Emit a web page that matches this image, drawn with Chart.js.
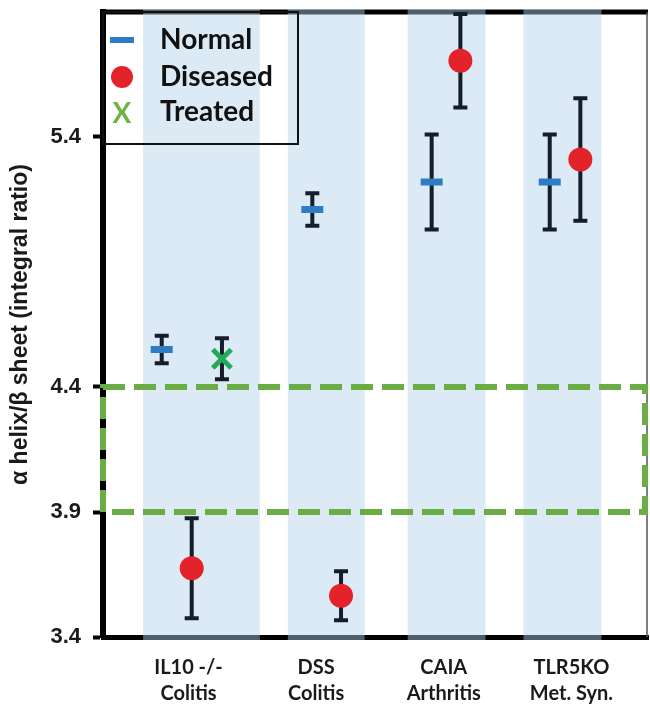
<!DOCTYPE html>
<html>
<head>
<meta charset="utf-8">
<script src="https://cdn.jsdelivr.net/npm/chart.js@4"></script>
<style>
  html, body { margin: 0; padding: 0; background: #fff; }
  #wrap { width: 650px; height: 708px; }
</style>
</head>
<body>
<div id="wrap"><canvas id="chrt" width="650" height="708"></canvas></div>
<script>
// data
const groups = [["IL10 -/-", "Colitis"], ["DSS", "Colitis"], ["CAIA", "Arthritis"], ["TLR5KO", "Met. Syn."]];
const normalMean = [4.55, 5.11, 5.22, 5.22];
const normalErr = [0.055, 0.065, 0.19, 0.19];
const diseasedMean = [3.675, 3.565, 5.705, 5.31];
const diseasedErr = [0.2, 0.098, 0.187, 0.245];
const treatedMean = [4.513, null, null, null];
const treatedErr = [0.082, null, null, null];
const yTicks = [3.4, 3.9, 4.4, 5.4];
const normalRange = [3.9, 4.4];

// where each marker sits inside its group (x axis units, group n at n)
const SLOT = {
  normal: [0.79, 1.97, 2.905, 3.83],
  diseased: [1.025, 2.195, 3.13, 4.07],
  treated: [1.262, null, null, null],
};
const BANDS = [[0.644, 1.559], [1.778, 2.38], [2.717, 3.327], [3.624, 4.235]];

const CLR = {
  normal: "#2e7cc4",
  diseased: "#e4222a",
  treated: "#24a85a",
  bar: "#141d29",
  band: "rgba(178, 208, 235, 0.45)",
  box: "#6aad45",
};

function pts(xs, ys) {
  return ys.map((y, i) => (y == null ? null : { x: xs[i], y: y })).filter((p) => p != null);
}

function errs(xs, ys, es) {
  return ys.map((y, i) => (y == null ? null : { x: xs[i], lo: y - es[i], hi: y + es[i] })).filter((p) => p != null);
}

const errData = [
  errs(SLOT.normal, normalMean, normalErr),
  errs(SLOT.diseased, diseasedMean, diseasedErr),
  errs(SLOT.treated, treatedMean, treatedErr),
];

const backdrop = {
  id: "backdrop",
  beforeDatasetsDraw(chart) {
    const { ctx, chartArea: a, scales } = chart;
    const x = scales.x, y = scales.y;
    ctx.save();
    // top frame + thin right frame
    ctx.strokeStyle = "#000";
    ctx.lineWidth = 5;
    ctx.beginPath();
    ctx.moveTo(a.left - 3, a.top);
    ctx.lineTo(a.right, a.top);
    ctx.stroke();
    ctx.strokeStyle = "#555";
    ctx.lineWidth = 1.5;
    ctx.beginPath();
    ctx.moveTo(a.right - 1, a.top);
    ctx.lineTo(a.right - 1, a.bottom);
    ctx.stroke();
    // shaded group bands
    ctx.fillStyle = CLR.band;
    BANDS.forEach((b) => {
      const x0 = x.getPixelForValue(b[0]);
      const x1 = x.getPixelForValue(b[1]);
      ctx.fillRect(x0, a.top - 3, x1 - x0, a.bottom - a.top + 6);
    });
    // error bars
    ctx.strokeStyle = CLR.bar;
    ctx.lineWidth = 4;
    errData.forEach((set) => {
      set.forEach((e) => {
        const px = x.getPixelForValue(e.x);
        const p0 = y.getPixelForValue(e.lo);
        const p1 = y.getPixelForValue(e.hi);
        ctx.beginPath();
        ctx.moveTo(px, p0);
        ctx.lineTo(px, p1);
        ctx.moveTo(px - 7, p0);
        ctx.lineTo(px + 7, p0);
        ctx.moveTo(px - 7, p1);
        ctx.lineTo(px + 7, p1);
        ctx.stroke();
      });
    });
    ctx.restore();
  },
  afterDatasetsDraw(chart) {
    const { ctx, chartArea: a, scales } = chart;
    const y = scales.y;
    ctx.save();
    // dashed box for the healthy range
    const yt = y.getPixelForValue(normalRange[1]);
    const yb = y.getPixelForValue(normalRange[0]);
    ctx.strokeStyle = CLR.box;
    ctx.lineWidth = 6;
    ctx.setLineDash([22, 9]);
    ctx.strokeRect(a.left, yt, a.right - a.left - 3, yb - yt);
    ctx.setLineDash([]);

    // legend box in the top left corner
    ctx.strokeStyle = "#111";
    ctx.lineWidth = 2;
    ctx.strokeRect(a.left, a.top, 195, 132);
    const ds = chart.data.datasets;
    const rows = [a.top + 28, a.top + 65, a.top + 100];
    ctx.font = "bold 28px Lato";
    ctx.textBaseline = "middle";
    ds.forEach((d, i) => {
      const cy = rows[i];
      const cx = a.left + 19;
      if (i == 0) {
        ctx.strokeStyle = d.borderColor;
        ctx.lineWidth = 6;
        ctx.beginPath();
        ctx.moveTo(cx - 12, cy);
        ctx.lineTo(cx + 12, cy);
        ctx.stroke();
      } else if (i == 1) {
        ctx.fillStyle = d.backgroundColor;
        ctx.beginPath();
        ctx.arc(cx, cy, 11, 0, Math.PI * 2);
        ctx.fill();
      } else {
        ctx.fillStyle = "#6db443";
        ctx.textAlign = "center";
        ctx.fillText("X", cx, cy + 2);
      }
      ctx.fillStyle = "#111";
      ctx.textAlign = "left";
      ctx.fillText(d.label, a.left + 57, cy);
    });
    ctx.restore();
  },
};

new Chart(document.getElementById("chrt"), {
  type: "scatter",
  data: {
    datasets: [
      {
        label: "Normal",
        data: pts(SLOT.normal, normalMean),
        pointStyle: "line",
        pointRadius: 11,
        borderWidth: 7,
        borderColor: CLR.normal,
        backgroundColor: CLR.normal,
      },
      {
        label: "Diseased",
        data: pts(SLOT.diseased, diseasedMean),
        pointStyle: "circle",
        pointRadius: 12,
        borderWidth: 0,
        backgroundColor: CLR.diseased,
        borderColor: CLR.diseased,
      },
      {
        label: "Treated",
        data: pts(SLOT.treated, treatedMean),
        pointStyle: "crossRot",
        pointRadius: 13,
        borderWidth: 5,
        borderColor: CLR.treated,
        backgroundColor: CLR.treated,
      },
    ],
  },
  options: {
    responsive: false,
    animation: false,
    events: [],
    layout: { autoPadding: false, padding: { top: 12, right: 2, left: 0, bottom: 0 } },
    plugins: {
      legend: { display: false },
      tooltip: { enabled: false },
    },
    scales: {
      x: {
        type: "linear",
        min: 0.33,
        max: 4.6,
        afterBuildTicks: (s) => {
          s.ticks = groups.map((g, i) => ({ value: i + 1 }));
        },
        afterFit: (s) => {
          s.height = 71;
          s.paddingLeft = 0;
          s.paddingRight = 0;
        },
        grid: { display: false, drawTicks: false },
        border: { display: true, color: "#000", width: 5 },
        ticks: {
          padding: 18,
          color: "#1a1a1a",
          font: { family: "Lato", weight: "bold", size: 20, lineHeight: 1.3 },
          callback: (v) => groups[v - 1],
        },
      },
      y: {
        min: 3.4,
        max: 5.9,
        afterBuildTicks: (s) => {
          s.ticks = yTicks.map((v) => ({ value: v }));
        },
        afterFit: (s) => {
          s.width = 103;
          s.paddingTop = 0;
          s.paddingBottom = 0;
        },
        grid: {
          drawOnChartArea: false,
          drawTicks: true,
          tickLength: 10,
          tickWidth: 4,
          tickColor: "#000",
        },
        border: { display: true, color: "#000", width: 6 },
        ticks: {
          padding: 12,
          color: "#1a1a1a",
          font: { family: "Liberation Sans", weight: "bold", size: 22 },
          callback: (v) => v.toFixed(1),
        },
        title: {
          display: true,
          text: "α helix/β sheet (integral ratio)",
          color: "#1a1a1a",
          padding: { top: 7, bottom: 0 },
          font: { family: "Liberation Sans", weight: "bold", size: 23 },
        },
      },
    },
  },
  plugins: [backdrop],
});
</script>
</body>
</html>
